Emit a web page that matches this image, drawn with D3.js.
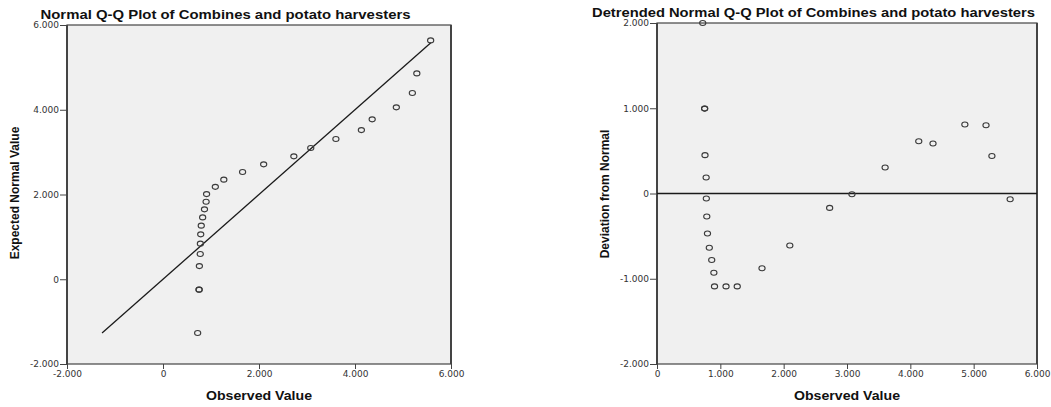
<!DOCTYPE html>
<html>
<head>
<meta charset="utf-8">
<script src="https://cdn.jsdelivr.net/npm/d3@7"></script>
<style>
  html, body { margin: 0; padding: 0; background: #fff; }
  svg { display: block; }
  text { font-family: "Liberation Sans", Arial, sans-serif; }
  .tick text { font-family: "DejaVu Sans", sans-serif; font-size: 9px; }
  .tick line { stroke: #444; }
</style>
</head>
<body>
<svg id="chart" width="1051" height="407"></svg>
<script>
// ---- data ----
const observed = [0.722, 0.752, 0.752, 0.758, 0.776, 0.779, 0.786, 0.797, 0.826, 0.864, 0.898, 0.908,
                  1.090, 1.267, 1.658, 2.097, 2.726, 3.078, 3.602, 4.133, 4.358, 4.861, 5.195, 5.288, 5.576];
const expectedNormal = [-1.27, -0.245, -0.245, 0.31, 0.597, 0.84, 1.06, 1.265, 1.46, 1.65, 1.83, 2.01,
                        2.18, 2.35, 2.53, 2.712, 2.90, 3.097, 3.31, 3.52, 3.773, 4.057, 4.394, 4.858, 5.637];
const deviation = [2.0, 0.996, 0.996, 0.45, 0.188, -0.059, -0.27, -0.47, -0.637, -0.78, -0.93, -1.09,
                   -1.09, -1.09, -0.876, -0.61, -0.169, -0.008, 0.305, 0.613, 0.586, 0.81, 0.80, 0.44, -0.067];
const refLine = [-1.27, 5.58];           // y = x reference line extent
const qqXTicks = [-2, 0, 2, 4, 6];
const qqYTicks = [-2, 0, 2, 4, 6];
const dtXTicks = [0, 1, 2, 3, 4, 5, 6];
const dtYTicks = [-2, -1, 0, 1, 2];
const titles = ["Normal Q-Q Plot of Combines and potato harvesters",
                "Detrended Normal Q-Q Plot of Combines and potato harvesters"];
const xLabel = "Observed Value";
const yLabels = ["Expected Normal Value", "Deviation from Normal"];

const svg = d3.select("#chart");
const fmt = d => d === 0 ? "0" : d.toFixed(3);

function panel(cfg) {
  const g = svg.append("g");
  const x = d3.scaleLinear().domain(cfg.xDomain).range([cfg.x0, cfg.x1]);
  const y = d3.scaleLinear().domain(cfg.yDomain).range([cfg.y1, cfg.y0]);

  g.append("rect")
    .attr("x", cfg.x0).attr("y", cfg.y0)
    .attr("width", cfg.x1 - cfg.x0).attr("height", cfg.y1 - cfg.y0)
    .attr("fill", "#f0f0f0").attr("stroke", "#444").attr("stroke-width", 1.2);
  [cfg.x0, cfg.x1].forEach(xx => g.append("line")
    .attr("x1", xx).attr("x2", xx).attr("y1", cfg.y0).attr("y2", cfg.y1)
    .attr("stroke", "#444").attr("stroke-width", 2));

  const ax = g.append("g").attr("transform", `translate(0,${cfg.y1})`)
    .call(d3.axisBottom(x).tickValues(cfg.xTicks).tickFormat(fmt).tickSize(5).tickSizeOuter(0).tickPadding(2));
  ax.select(".domain").remove();
  ax.selectAll(".tick text").attr("fill", "#333");

  const ay = g.append("g").attr("transform", `translate(${cfg.x0},0)`)
    .call(d3.axisLeft(y).tickValues(cfg.yTicks).tickFormat(fmt).tickSize(7).tickSizeOuter(0).tickPadding(1));
  ay.select(".domain").remove();
  ay.selectAll(".tick text").attr("fill", "#333");

  cfg.extra && cfg.extra(g, x, y);

  g.selectAll("ellipse.pt").data(cfg.xs.map((v, i) => [v, cfg.ys[i]]))
    .join("ellipse").attr("class", "pt")
    .attr("cx", d => x(d[0])).attr("cy", d => y(d[1]))
    .attr("rx", 3.1).attr("ry", 2.5)
    .attr("fill", "none").attr("stroke", "#3a3a3a").attr("stroke-width", 1.1);

  g.append("text").text(cfg.title)
    .attr("x", cfg.titleX).attr("y", cfg.titleY).attr("text-anchor", "middle")
    .attr("font-size", 12).attr("font-weight", "bold").attr("fill", "#111")
    .attr("textLength", cfg.titleLen).attr("lengthAdjust", "spacingAndGlyphs");

  g.append("text").text(xLabel)
    .attr("x", (cfg.x0 + cfg.x1) / 2).attr("y", 400).attr("text-anchor", "middle")
    .attr("font-size", 13).attr("font-weight", "bold").attr("fill", "#111")
    .attr("textLength", 106).attr("lengthAdjust", "spacingAndGlyphs");

  g.append("text").text(cfg.yLabel)
    .attr("transform", `translate(${cfg.yLabelX},${cfg.yLabelY}) rotate(-90)`)
    .attr("text-anchor", "middle")
    .attr("font-size", 12).attr("font-weight", "bold").attr("fill", "#111");
}

panel({
  x0: 67, x1: 451, y0: 25, y1: 364,
  xDomain: [-2, 6], yDomain: [-2, 6], xTicks: qqXTicks, yTicks: qqYTicks,
  xs: observed, ys: expectedNormal,
  title: titles[0], titleX: 225.5, titleY: 19, titleLen: 370,
  yLabel: yLabels[0], yLabelX: 18.5, yLabelY: 193,
  extra: (g, x, y) => g.append("line")
    .attr("x1", x(refLine[0])).attr("y1", y(refLine[0]))
    .attr("x2", x(refLine[1])).attr("y2", y(refLine[1]))
    .attr("stroke", "#1a1a1a").attr("stroke-width", 1.3)
});

panel({
  x0: 657, x1: 1037, y0: 23, y1: 364,
  xDomain: [0, 6], yDomain: [-2, 2], xTicks: dtXTicks, yTicks: dtYTicks,
  xs: observed, ys: deviation,
  title: titles[1], titleX: 813.5, titleY: 16.5, titleLen: 443,
  yLabel: yLabels[1], yLabelX: 609, yLabelY: 194,
  extra: (g, x, y) => g.append("line")
    .attr("x1", x(0)).attr("x2", x(6)).attr("y1", y(0)).attr("y2", y(0))
    .attr("stroke", "#1a1a1a").attr("stroke-width", 1.3)
});
</script>
</body>
</html>
